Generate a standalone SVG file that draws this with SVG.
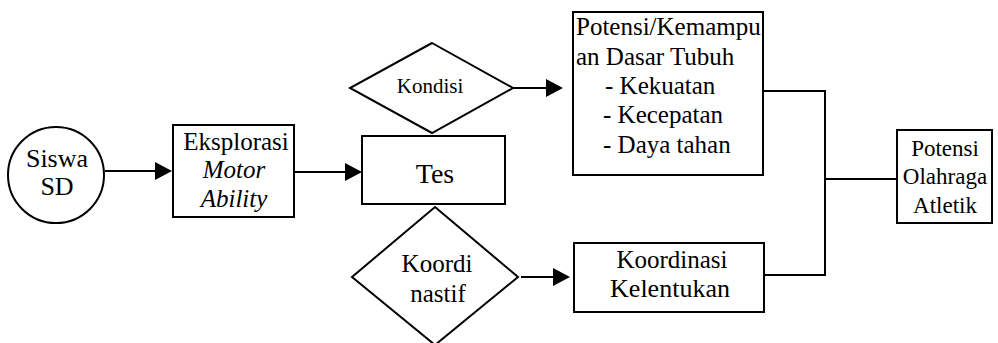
<svg xmlns="http://www.w3.org/2000/svg" width="998" height="343" viewBox="0 0 998 343">
<rect width="998" height="343" fill="#fff"/>
<g id="connectors" stroke="#000" stroke-width="2">
<line x1="105" y1="171" x2="156" y2="171"/>
<polygon points="155,162 172,171 155,180" fill="#000" stroke="none"/>
<line x1="294" y1="172" x2="346" y2="172"/>
<polygon points="345,163 362,172 345,181" fill="#000" stroke="none"/>
<line x1="513" y1="88" x2="547" y2="88"/>
<polygon points="546,79 563,88 546,97" fill="#000" stroke="none"/>
<line x1="521" y1="277" x2="554" y2="277"/>
<polygon points="553,268 570,277 553,286" fill="#000" stroke="none"/>
<polyline points="763,91 825,91 825,275 764,275" fill="none"/>
<line x1="825" y1="179" x2="897" y2="179"/>
</g>
<g id="siswa">
<circle cx="56" cy="175" r="48" fill="#fff" stroke="#000" stroke-width="2"/>
<text x="57" y="167" font-size="26" font-family="Liberation Serif" text-anchor="middle">Siswa</text>
<text x="57" y="195" font-size="26" font-family="Liberation Serif" text-anchor="middle">SD</text>
</g>
<g id="eksplorasi">
<rect x="173" y="125" width="121" height="92" fill="#fff" stroke="#000" stroke-width="2"/>
<text x="236" y="150" font-size="25" font-family="Liberation Serif" text-anchor="middle">Eksplorasi</text>
<text x="234" y="178" font-size="25" font-family="Liberation Serif" text-anchor="middle" font-style="italic">Motor</text>
<text x="234" y="207" font-size="25" font-family="Liberation Serif" text-anchor="middle" font-style="italic">Ability</text>
</g>
<g id="kondisi">
<polygon points="432,43 513,88 432,133 350,88" fill="#fff" stroke="#000" stroke-width="2"/>
<text x="430" y="93" font-size="21" font-family="Liberation Serif" text-anchor="middle">Kondisi</text>
</g>
<g id="tes">
<rect x="362" y="136" width="143" height="68" fill="#fff" stroke="#000" stroke-width="2"/>
<text x="435" y="183" font-size="28" font-family="Liberation Serif" text-anchor="middle">Tes</text>
</g>
<g id="koordinastif">
<polygon points="435,207 518,277 435,345 352,277" fill="#fff" stroke="#000" stroke-width="2"/>
<text x="437" y="272" font-size="25" font-family="Liberation Serif" text-anchor="middle">Koordi</text>
<text x="438" y="302" font-size="25" font-family="Liberation Serif" text-anchor="middle">nastif</text>
</g>
<g id="potensi-dasar">
<rect x="573" y="12" width="190" height="163" fill="#fff" stroke="#000" stroke-width="2"/>
<text x="576" y="35" font-size="25" font-family="Liberation Serif">Potensi/Kemampu</text>
<text x="576" y="65" font-size="25" font-family="Liberation Serif">an Dasar Tubuh</text>
<text x="605" y="94" font-size="25" font-family="Liberation Serif">- Kekuatan</text>
<text x="603" y="123" font-size="25" font-family="Liberation Serif">- Kecepatan</text>
<text x="603" y="153" font-size="25" font-family="Liberation Serif">- Daya tahan</text>
</g>
<g id="koordinasi">
<rect x="574" y="243" width="190" height="69" fill="#fff" stroke="#000" stroke-width="2"/>
<text x="672" y="268" font-size="25" font-family="Liberation Serif" text-anchor="middle">Koordinasi</text>
<text x="670" y="297" font-size="26" font-family="Liberation Serif" text-anchor="middle">Kelentukan</text>
</g>
<g id="potensi-olahraga">
<rect x="897" y="130" width="95" height="93" fill="#fff" stroke="#000" stroke-width="2"/>
<text x="945" y="156" font-size="23" font-family="Liberation Serif" text-anchor="middle">Potensi</text>
<text x="945" y="184" font-size="23" font-family="Liberation Serif" text-anchor="middle">Olahraga</text>
<text x="945" y="213" font-size="23" font-family="Liberation Serif" text-anchor="middle">Atletik</text>
</g>
</svg>
